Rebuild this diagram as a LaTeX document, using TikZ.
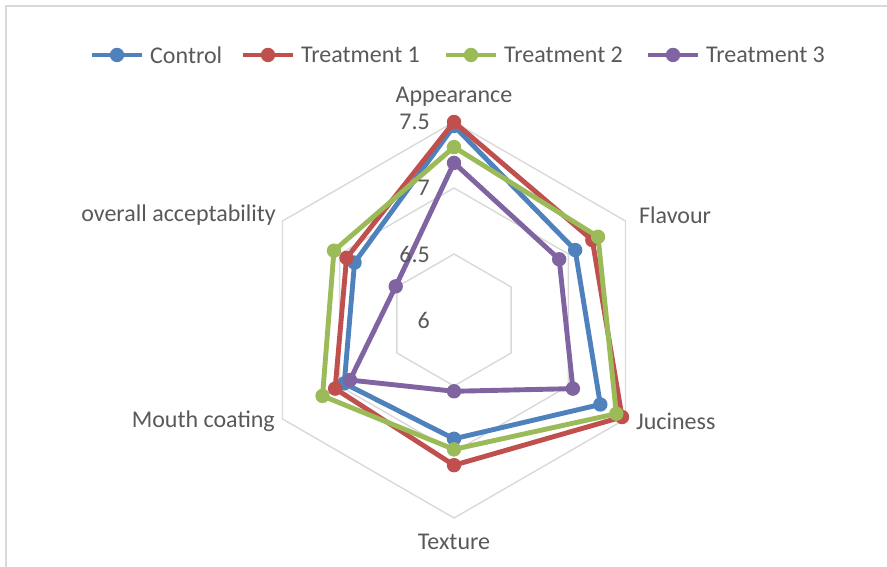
\documentclass[tikz,border=0pt]{standalone}
\usepackage{fontspec}
\setmainfont{Carlito}
\usetikzlibrary{positioning,calc}

\definecolor{ctrlblue}{HTML}{4F81BD}
\definecolor{treatred}{HTML}{C0504D}
\definecolor{treatgreen}{HTML}{9BBB59}
\definecolor{treatpurple}{HTML}{8064A2}
\definecolor{gridgray}{HTML}{D9D9D9}
\definecolor{labelgray}{HTML}{595959}

\tikzset{
  gridline/.style={draw=gridgray, line width=1.4pt},
  series/.style={line width=4.9pt, line join=round},
  chartlabel/.style={text=labelgray, inner sep=0pt, font=\fontsize{24}{28}\selectfont},
}

\begin{document}
\begin{tikzpicture}[x=1pt,y=1pt]
                \useasboundingbox (0,0) rectangle (887,567);
                \draw[gridgray, line width=1.5pt] (6,0) -- (6,561) -- (887,561);

                % rings of the radar
                \begin{scope}[shift={(454,247)}]
                \foreach \r in {66,132,198}
                    \draw[gridline] (90:\r) -- (30:\r) -- (-30:\r) -- (-90:\r) -- (210:\r) -- (150:\r) -- cycle;

                % the four series, value v sits at radius (v-6)*132
                \foreach \name/\col/\vals in {ctrl/ctrlblue/{7.47,7.06,7.28,6.90,6.96,6.87},
                                             tone/treatred/{7.50,7.21,7.47,7.10,7.04,6.94},
                                             ttwo/treatgreen/{7.31,7.26,7.42,6.98,7.15,7.05},
                                             tthree/treatpurple/{7.19,6.92,7.04,6.54,6.91,6.51}} {
                    \foreach \v [count=\i] in \vals
                        \coordinate (\name-\i) at ({90-60*(\i-1)}:{(\v-6)*132});
                    \draw[series, \col] (\name-1) -- (\name-2) -- (\name-3) -- (\name-4) -- (\name-5) -- (\name-6) -- cycle;
                    \foreach \i in {1,...,6}
                        \fill[\col] (\name-\i) circle[radius=7.2];
                }
                \end{scope}

                % axis names
                \node[chartlabel] (appearance) at (454,470) {Appearance};
                \node[chartlabel, anchor=west] (flavour) at (639,352) {Flavour};
                \node[chartlabel, anchor=west] (juciness) at (636,146) {Juciness};
                \node[chartlabel] (texture) at (454,25) {Texture};
                \node[chartlabel, anchor=east] (mouth) at (275,146) {Mouth coating};
                \node[chartlabel, anchor=east] (overall) at (276,352) {overall acceptability};

                % scale values
                \node[chartlabel, anchor=east] (tick75) at (430,445) {7.5};
                \node[chartlabel, anchor=east] (tick7) at (430,379) {7};
                \node[chartlabel, anchor=east] (tick65) at (430,313) {6.5};
                \node[chartlabel, anchor=east] (tick6) at (430,247) {6};

                % legend
                \foreach \x/\col/\txt [count=\k] in {92/ctrlblue/Control, 243/treatred/Treatment 1,
                                                     446/treatgreen/Treatment 2, 648/treatpurple/Treatment 3} {
                    \coordinate (leg\k-a) at (\x,512);
                    \coordinate (leg\k-b) at ({\x+50},512);
                    \draw[series, \col] (leg\k-a) -- (leg\k-b);
                    \fill[\col] ($(leg\k-a)!0.5!(leg\k-b)$) circle[radius=7.2];
                    \node[chartlabel, anchor=west] (leg\k) at ({\x+58},512) {\txt};
                }
\end{tikzpicture}
\end{document}
